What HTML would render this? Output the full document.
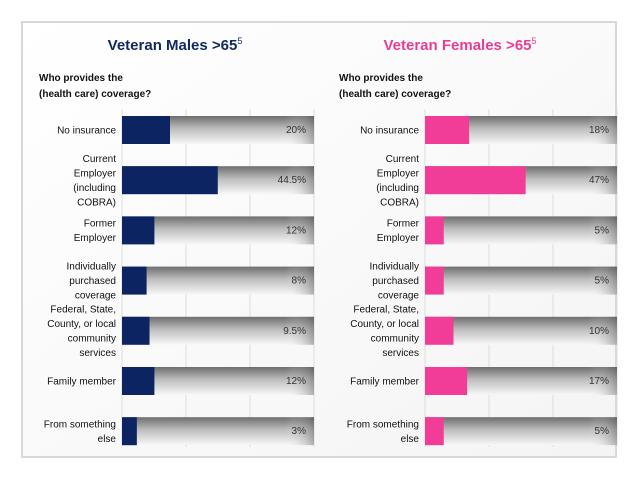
<!DOCTYPE html>
<html><head><meta charset="utf-8"><style>
body{margin:0;width:638px;height:479px;background:#fff;font-family:"Liberation Sans",sans-serif;overflow:hidden}
</style></head><body>
<svg id="s" width="638" height="479" xmlns="http://www.w3.org/2000/svg">
<defs>
<linearGradient id="gb" x1="0" y1="0" x2="0" y2="1"><stop offset="0" stop-color="#6e6e6e"/><stop offset="0.45" stop-color="#bdbdbd"/><stop offset="1" stop-color="#f8f8f8"/></linearGradient>
<linearGradient id="gr" x1="0" y1="0" x2="1" y2="0"><stop offset="0.85" stop-color="#fff" stop-opacity="0"/><stop offset="1" stop-color="#555" stop-opacity="0.45"/></linearGradient>
<linearGradient id="card" x1="0" y1="0" x2="1" y2="1"><stop offset="0" stop-color="#fff"/><stop offset="1" stop-color="#f4f4f4"/></linearGradient>
</defs>
<rect x="22" y="22" width="594" height="435" fill="url(#card)" stroke="#d8d8d8" stroke-width="2"/>
<text x="175" y="50" text-anchor="middle" font-size="15" font-weight="bold" fill="#0f2a5f">Veteran Males &gt;65<tspan font-size="9" dy="-6" font-weight="normal">5</tspan></text>
<text x="460" y="50" text-anchor="middle" font-size="15" font-weight="bold" fill="#e83d96">Veteran Females &gt;65<tspan font-size="9" dy="-6" font-weight="normal">5</tspan></text>
<text x="39" y="81" font-size="10" font-weight="bold" fill="#111"><tspan x="39">Who provides the</tspan><tspan x="39" dy="16">(health care) coverage?</tspan></text>
<text x="339" y="81" font-size="10" font-weight="bold" fill="#111"><tspan x="339">Who provides the</tspan><tspan x="339" dy="16">(health care) coverage?</tspan></text>
</svg>
<script>
const categories=[["No insurance"],["Current","Employer","(including","COBRA)"],["Former","Employer"],["Individually","purchased","coverage"],["Federal, State,","County, or local","community","services"],["Family member"],["From something","else"]];
const maleValues=[20,44.5,12,8,9.5,12,3];
const femaleValues=[18,47,5,5,10,17,5];
const maleLabels=["20%","44.5%","12%","8%","9.5%","12%","3%"];
const femaleLabels=["18%","47%","5%","5%","10%","17%","5%"];
const s=document.getElementById('s');
const NS="http://www.w3.org/2000/svg";
function mk(t,a){const e=document.createElementNS(NS,t);for(const k in a)e.setAttribute(k,a[k]);s.appendChild(e);return e;}
const rowCenters=i=>130+i*50.2;
function panel(x0,vals,labels,color,side){
  const x1=x0+192;
  const xs=v=>9+v*1.95;
  for(let g=0;g<4;g++){const l=mk('line',{x1:x0+g*64,x2:x0+g*64,y1:109,y2:447,stroke:'#dcdcdc','stroke-width':1});
    
    }
  categories.forEach((c,i)=>{
    const cy=rowCenters(i);
    const bg=mk('rect',{x:x0,y:cy-14,width:x1-x0,height:28,fill:'url(#gb)'});
    
    
    const bg2=mk('rect',{x:x0,y:cy-14,width:x1-x0,height:28,fill:'url(#gr)'});
    
    
    const b=mk('rect',{x:x0,y:cy-14,width:xs(vals[i]),height:28,fill:color});
    
    
    const t=mk('text',{x:x1-8,y:cy+3,'text-anchor':'end','font-size':10,fill:'#333'});
    t.textContent=labels[i];
    
    
    const n=c.length;
    c.forEach((ln,j)=>{
      const tt=mk('text',{x:x0-6,y:cy+3.5+(j-(n-1)/2)*14.5,'text-anchor':'end','font-size':10,fill:'#111'});
      tt.textContent=ln;
      
      
    });
  });
}
panel(122,maleValues,maleLabels,'#0c2461','male');
panel(425,femaleValues,femaleLabels,'#f23d98','female');
</script>
</body></html>
